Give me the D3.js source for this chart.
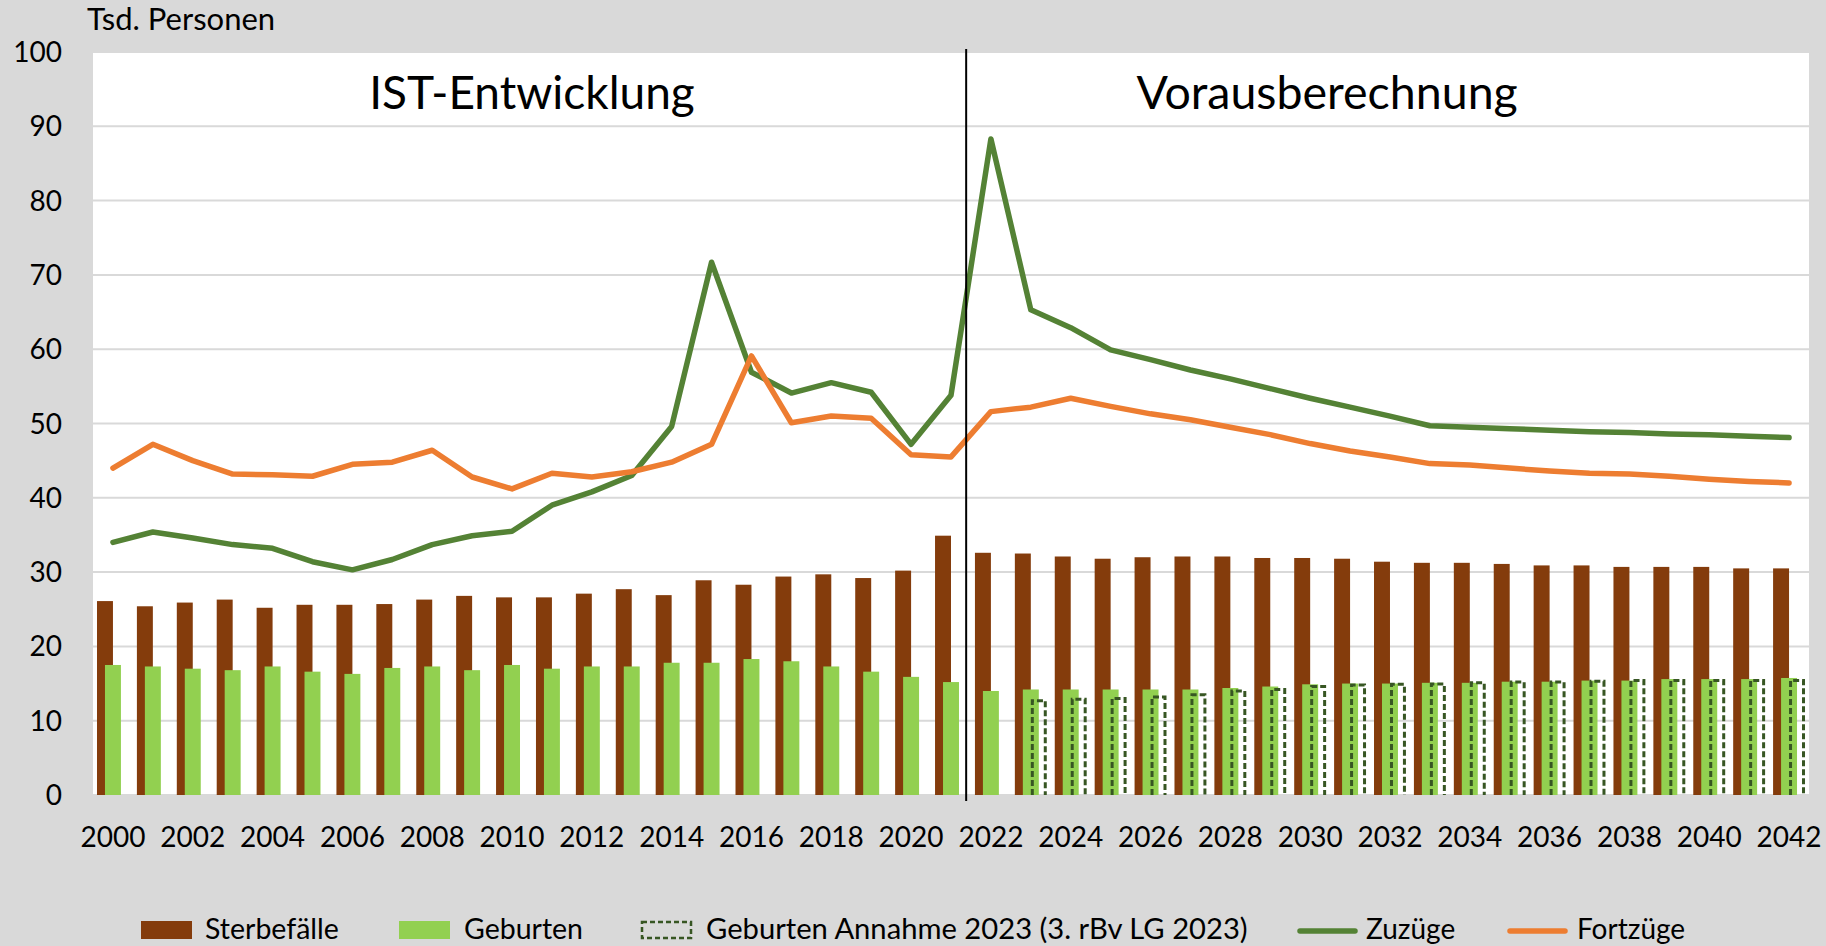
<!DOCTYPE html>
<html>
<head>
<meta charset="utf-8">
<script src="https://cdn.jsdelivr.net/npm/d3@7"></script>
<style>
  html, body { margin: 0; padding: 0; background: #D9D9D9; }
  svg { display: block; font-family: Lato, "Open Sans", sans-serif; }
</style>
</head>
<body>
<svg id="chart" width="1826" height="946"></svg>
<script>
// ---------- data ----------
const years = d3.range(2000, 2043).map(String);

const sterbefaelle = [26.1,25.4,25.9,26.3,25.2,25.6,25.6,25.7,26.3,26.8,26.6,26.6,27.1,27.7,26.9,28.9,28.3,29.4,29.7,29.2,30.2,34.9,
  32.6,32.5,32.1,31.8,32.0,32.1,32.1,31.9,31.9,31.8,31.4,31.25,31.25,31.1,30.9,30.9,30.7,30.7,30.7,30.5,30.5];

const geburten = [17.5,17.3,17.0,16.8,17.3,16.6,16.3,17.1,17.3,16.8,17.5,17.0,17.3,17.3,17.8,17.8,18.3,18.0,17.3,16.6,15.9,15.2,
  14.0,14.2,14.2,14.2,14.2,14.2,14.4,14.6,14.9,15.0,15.0,15.1,15.1,15.25,15.25,15.4,15.4,15.6,15.6,15.6,15.75];

// Geburten Annahme 2023 (3. rBv LG 2023): from 2023 on
const geburtenAnnahme = [null,null,null,null,null,null,null,null,null,null,null,null,null,null,null,null,null,null,null,null,null,null,
  null,12.9,13.1,13.2,13.4,13.7,14.2,14.4,14.8,15.0,15.1,15.15,15.3,15.4,15.4,15.5,15.6,15.6,15.6,15.6,15.6];

const zuzuege = [34.0,35.4,34.6,33.7,33.2,31.4,30.3,31.7,33.7,34.9,35.5,39.0,40.8,43.0,49.6,71.7,56.9,54.1,55.5,54.2,47.2,53.8,
  88.3,65.3,62.9,59.9,58.6,57.2,56.0,54.7,53.4,52.2,51.0,49.7,49.5,49.3,49.1,48.9,48.8,48.6,48.5,48.3,48.1];

const fortzuege = [44.0,47.2,45.0,43.2,43.1,42.9,44.5,44.8,46.4,42.8,41.2,43.3,42.8,43.5,44.8,47.2,59.1,50.1,51.0,50.7,45.8,45.5,
  51.6,52.2,53.4,52.3,51.3,50.5,49.5,48.5,47.3,46.3,45.5,44.6,44.4,44.0,43.6,43.3,43.2,42.9,42.5,42.2,42.0];

const yTicks = [0,10,20,30,40,50,60,70,80,90,100];
const xTickLabels = d3.range(2000, 2043, 2).map(String);

const unitLabel = "Tsd. Personen";
const periodLabels = ["IST-Entwicklung", "Vorausberechnung"];
const legendLabels = ["Sterbefälle", "Geburten", "Geburten Annahme 2023 (3. rBv LG 2023)", "Zuzüge", "Fortzüge"];

// ---------- styles ----------
const C = {
  bg: "#D9D9D9", plot: "#FFFFFF", grid: "#D9D9D9",
  sterbe: "#843C0C", geb: "#92D050", gebA: "#375623",
  zu: "#548235", fort: "#ED7D31", text: "#000000"
};

// ---------- layout ----------
const svg = d3.select("#chart");
const pL = 93, pR = 1809, pT = 52, pB = 795;

const x = d3.scaleBand().domain(years).range([pL, pR]).paddingInner(0).paddingOuter(0);
const y = d3.scaleLinear().domain([0, 100]).range([pB, pT]);

const step = x.step();
const barW = step / 2.5;          // gap width 50 %, overlap 50 %
const gap = step - 2 * barW;
const slot = k => gap / 2 + k * barW / 2;

// backgrounds
svg.append("rect").attr("width", 1826).attr("height", 946).attr("fill", C.bg);
svg.append("rect").attr("x", pL).attr("y", pT).attr("width", pR - pL).attr("height", pB - pT).attr("fill", C.plot);

// gridlines
svg.append("g").selectAll("line").data(yTicks).join("line")
  .attr("x1", pL).attr("x2", pR)
  .attr("y1", d => y(d)).attr("y2", d => y(d))
  .attr("stroke", C.grid).attr("stroke-width", 2);

// y axis labels
svg.append("g").selectAll("text").data(yTicks).join("text")
  .attr("x", 62).attr("y", d => y(d)).attr("dy", "0.36em")
  .attr("text-anchor", "end").attr("font-size", 28).attr("fill", C.text)
  .text(d => d);

// x axis labels
svg.append("g").selectAll("text").data(xTickLabels).join("text")
  .attr("x", d => x(d) + step / 2).attr("y", 847)
  .attr("text-anchor", "middle").attr("font-size", 28).attr("fill", C.text)
  .text(d => d);

// unit label
svg.append("text").attr("x", 87).attr("y", 30).attr("font-size", 31).attr("fill", C.text).text(unitLabel);

// bars
const bars = svg.append("g");
bars.append("g").selectAll("rect").data(years.map((yr, i) => ({yr, v: sterbefaelle[i]}))).join("rect")
  .attr("x", d => x(d.yr) + slot(0)).attr("width", barW)
  .attr("y", d => y(d.v)).attr("height", d => y(0) - y(d.v))
  .attr("fill", C.sterbe);
bars.append("g").selectAll("rect").data(years.map((yr, i) => ({yr, v: geburten[i]}))).join("rect")
  .attr("x", d => x(d.yr) + slot(1)).attr("width", barW)
  .attr("y", d => y(d.v)).attr("height", d => y(0) - y(d.v))
  .attr("fill", C.geb);
// dashed outline bars (open at the bottom, like the reference)
bars.append("g").selectAll("path").data(years.map((yr, i) => ({yr, v: geburtenAnnahme[i]})).filter(d => d.v != null)).join("path")
  .attr("d", d => {
    const x0 = x(d.yr) + slot(2) + 1.5, x1 = x0 + barW - 3, yt = y(d.v) + 1.5, yb = y(0);
    return `M${x0},${yb}V${yt}H${x1}V${yb}`;
  })
  .attr("fill", "none").attr("stroke", C.gebA).attr("stroke-width", 3)
  .attr("stroke-dasharray", "6,3");

// lines
const line = d3.line().x((d, i) => x(years[i]) + step / 2).y(d => y(d));
svg.append("path").datum(zuzuege).attr("d", line)
  .attr("fill", "none").attr("stroke", C.zu).attr("stroke-width", 5.5)
  .attr("stroke-linejoin", "round").attr("stroke-linecap", "round");
svg.append("path").datum(fortzuege).attr("d", line)
  .attr("fill", "none").attr("stroke", C.fort).attr("stroke-width", 5.5)
  .attr("stroke-linejoin", "round").attr("stroke-linecap", "round");

// divider between actual and projection
const divX = x("2022") - step * 0.12;
svg.append("line").attr("x1", divX).attr("x2", divX)
  .attr("y1", y(100) - 3).attr("y2", y(0) + 6)
  .attr("stroke", "#000").attr("stroke-width", 2);

// period labels
svg.append("text").attr("x", x("2011")).attr("y", 109).attr("text-anchor", "middle")
  .attr("font-size", 46).attr("fill", C.text).text(periodLabels[0]);
svg.append("text").attr("x", x("2031") - 3).attr("y", 109).attr("text-anchor", "middle")
  .attr("font-size", 46.5).attr("fill", C.text).text(periodLabels[1]);

// legend
const lg = svg.append("g").attr("font-size", 28).attr("fill", C.text);
const ly = 930;
lg.append("rect").attr("x", 141).attr("y", ly - 9).attr("width", 51).attr("height", 18).attr("fill", C.sterbe);
lg.append("text").attr("x", 205).attr("y", 939).attr("font-size", 28.5).text(legendLabels[0]);
lg.append("rect").attr("x", 399).attr("y", ly - 9).attr("width", 51).attr("height", 18).attr("fill", C.geb);
lg.append("text").attr("x", 464).attr("y", 939).attr("font-size", 28.5).text(legendLabels[1]);
lg.append("rect").attr("x", 642).attr("y", ly - 8).attr("width", 49).attr("height", 16)
  .attr("fill", "none").attr("stroke", C.gebA).attr("stroke-width", 2.5).attr("stroke-dasharray", "5,3");
lg.append("text").attr("x", 706).attr("y", 939).attr("font-size", 29.2).text(legendLabels[2]);
lg.append("line").attr("x1", 1300).attr("x2", 1355).attr("y1", ly + 1).attr("y2", ly + 1)
  .attr("stroke", C.zu).attr("stroke-width", 5.5).attr("stroke-linecap", "round");
lg.append("text").attr("x", 1366).attr("y", 939).text(legendLabels[3]);
lg.append("line").attr("x1", 1510).attr("x2", 1565).attr("y1", ly + 1).attr("y2", ly + 1)
  .attr("stroke", C.fort).attr("stroke-width", 5.5).attr("stroke-linecap", "round");
lg.append("text").attr("x", 1577).attr("y", 939).text(legendLabels[4]);
</script>
</body>
</html>
